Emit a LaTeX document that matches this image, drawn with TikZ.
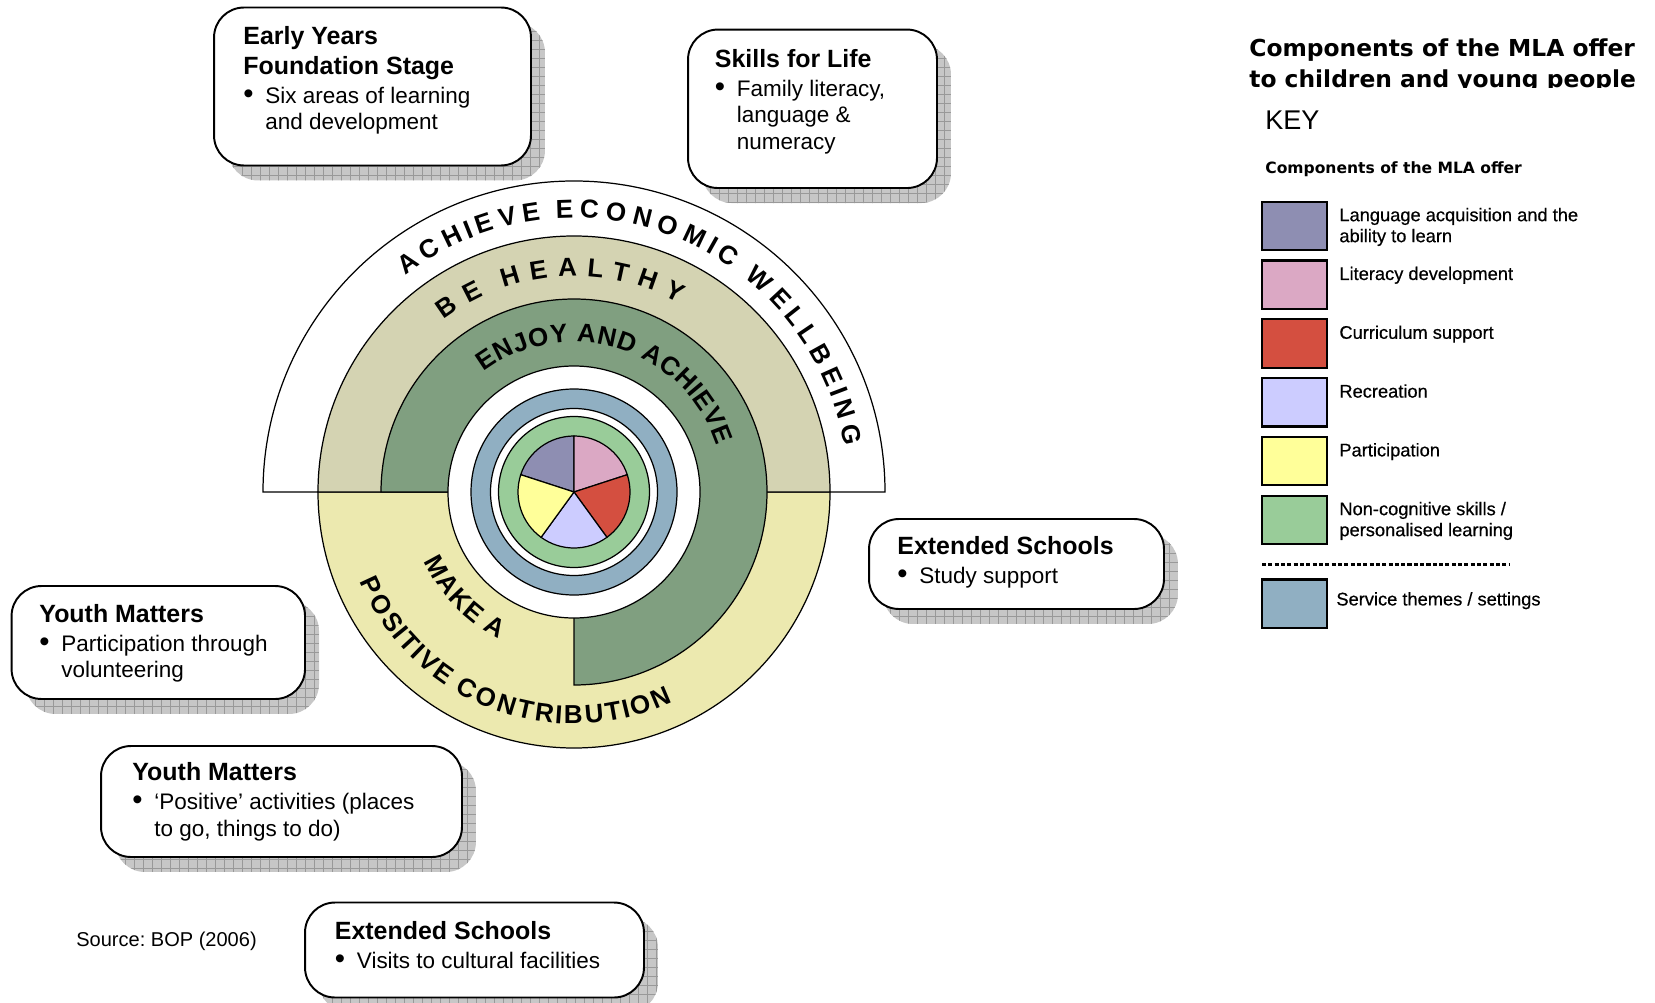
\documentclass[tikz,border=0pt]{standalone}
\usepackage{graphicx}
\usepackage{fontspec}
\setmainfont{Liberation Sans}
\newfontfamily\verdana{DejaVu Sans}
\newfontfamily\keyfont[FakeBold=0.5]{Liberation Sans}
\usetikzlibrary{positioning, shadows, decorations.text, patterns.meta}

\definecolor{langcol}{HTML}{8E8EB2}
\definecolor{litcol}{HTML}{DBA8C4}
\definecolor{currcol}{HTML}{D44F40}
\definecolor{reccol}{HTML}{CCCCFF}
\definecolor{partcol}{HTML}{FFFF99}
\definecolor{skillcol}{HTML}{99CC99}
\definecolor{themecol}{HTML}{90AFC2}
\definecolor{healthcol}{HTML}{D4D3B2}
\definecolor{enjoycol}{HTML}{809F80}
\definecolor{contribcol}{HTML}{ECE9AF}

\newcommand{\boxhead}[1]{{\fontsize{14.2pt}{16.8pt}\selectfont\bfseries #1}}
\newcommand{\itm}{\makebox[0.44cm][l]{\scalebox{1.3}{\textbullet}}}
\newcommand{\ind}{\hspace*{0.44cm}}

\tikzset{
  mlabox/.style={draw, line width=1.1pt, rounded corners=0.6cm, fill=white,
    drop shadow={shadow xshift=0.28cm, shadow yshift=-0.3cm, fill=black!22, opacity=1,
      postaction={pattern={Hatch[distance=0.18cm, line width=0.4pt]}, pattern color=black!40}}},
  boxtext/.style={inner sep=0pt, align=left, font=\fontsize{12.8pt}{15pt}\selectfont},
  swatch/.style={draw, line width=1.2pt, minimum width=1.3cm, minimum height=0.97cm, inner sep=0pt},
  keytext/.style={inner sep=0pt, align=left, font=\keyfont\fontsize{10.4pt}{11.95pt}\selectfont},
  ring/.style={draw, line width=0.7pt},
  ringtext/.style={decorate, decoration={text effects along path, text={#1},
    text effects/.cd, text along path, fit text to path,
    characters={font=\fontsize{14.8pt}{14.8pt}\selectfont\bfseries}}}
}

\begin{document}
\frenchspacing
\begin{tikzpicture}[x=0.02cm, y=0.02cm]
\useasboundingbox (0,0) rectangle (1655,-1003);

% the rings of the offer
\begin{scope}[shift={(574,-492)}]
% achieve economic wellbeing
\draw[ring, fill=white] (311,0) arc[start angle=0, end angle=180, radius=311] -- cycle;
% make a positive contribution
\draw[ring, fill=contribcol] (-256,0) arc[start angle=180, end angle=360, radius=256] -- cycle;
% be healthy
\draw[ring, fill=healthcol] (256,0) arc[start angle=0, end angle=180, radius=256] -- cycle;
% enjoy and achieve
\draw[ring, fill=enjoycol] (0,0) -- (-193,0) arc[start angle=180, end angle=-90, radius=193] -- cycle;
% centre
\draw[ring, fill=white] (0,0) circle[radius=126];
\draw[ring, fill=themecol] (0,0) circle[radius=103];
\draw[ring, fill=white] (0,0) circle[radius=83.5];
\draw[ring, fill=skillcol] (0,0) circle[radius=75.5];
\foreach \a/\col in {90/langcol, 18/litcol, -54/currcol, -126/reccol, 162/partcol}
  \draw[ring, fill=\col] (0,0) -- (\a:56) arc[start angle=\a, end angle=\a+72, radius=56] -- cycle;
% texts round the rings
\path[ringtext={ACHIEVE ECONOMIC WELLBEING}] (128:274) arc[start angle=128, end angle=9.5, radius=274];
\path[ringtext={BE HEALTHY}] (127:216) arc[start angle=127, end angle=61, radius=216];
\path[ringtext={ENJOY AND ACHIEVE}] (127:150) arc[start angle=127, end angle=18, radius=150];
\path[ringtext={MAKE A}] (204.7:165) arc[start angle=204.7, end angle=243.1, radius=165];
\path[ringtext={POSITIVE CONTRIBUTION}] (202.8:232) arc[start angle=202.8, end angle=295.2, radius=232];
\end{scope}

% boxes round the rings
\node[mlabox, minimum width=6.34cm, minimum height=3.16cm] (eyfs) at (372.5,-86.5) {};
\node[boxtext, below right=0.4cm and 0.6cm of eyfs.north west] (eyfs-t)
  {\boxhead{Early Years}\\[1.8pt]\boxhead{Foundation Stage}\\[1.5pt]\itm Six areas of learning\\\ind and development};

\node[mlabox, minimum width=4.98cm, minimum height=3.17cm] (skills) at (812.5,-108.8) {};
\node[boxtext, below right=0.41cm and 0.55cm of skills.north west] (skills-t)
  {\boxhead{Skills for Life}\\[1.5pt]\itm Family literacy,\\\ind language \&\\\ind numeracy};

\node[mlabox, minimum width=5.9cm, minimum height=1.8cm] (study) at (1016.5,-564) {};
\node[boxtext, below right=0.36cm and 0.58cm of study.north west] (study-t)
  {\boxhead{Extended Schools}\\[1.5pt]\itm Study support};

\node[mlabox, minimum width=5.87cm, minimum height=2.26cm] (volunt) at (158.3,-642.5) {};
\node[boxtext, below right=0.38cm and 0.57cm of volunt.north west] (volunt-t)
  {\boxhead{Youth Matters}\\[1.5pt]\itm Participation through\\\ind volunteering};

\node[mlabox, minimum width=7.22cm, minimum height=2.22cm] (posact) at (281.5,-801.5) {};
\node[boxtext, below right=0.35cm and 0.64cm of posact.north west] (posact-t)
  {\boxhead{Youth Matters}\\[1.5pt]\itm ‘Positive’ activities (places\\\ind to go, things to do)};

\node[mlabox, minimum width=6.78cm, minimum height=1.9cm] (visits) at (474.5,-950) {};
\node[boxtext, below right=0.39cm and 0.61cm of visits.north west] (visits-t)
  {\boxhead{Extended Schools}\\[1.5pt]\itm Visits to cultural facilities};

\node[anchor=west, inner sep=0pt, font=\fontsize{11.4pt}{13pt}\selectfont] (source) at (76,-941.5) {Source: BOP (2006)};

% key
\begin{scope}
\clip (1200,0) rectangle (1655,-88);
\node[anchor=north west, inner sep=0pt, align=left, font=\verdana\bfseries\fontsize{13.3pt}{18pt}\selectfont] (title) at (1249,-38)
  {Components of the MLA offer\\to children and young people};
\end{scope}
\node[anchor=north west, inner sep=0pt, font=\fontsize{15.4pt}{18pt}\selectfont] (key) at (1265,-110.5) {KEY};
\node[anchor=north west, inner sep=0pt, font=\verdana\bfseries\fontsize{8.85pt}{11pt}\selectfont] (keyhead) at (1265,-161) {Components of the MLA offer};

\foreach \col/\txt [count=\i] in {langcol/{Language acquisition and the\\ability to learn},
    litcol/{Literacy development}, currcol/{Curriculum support}, reccol/{Recreation},
    partcol/{Participation}, skillcol/{Non-cognitive skills /\\personalised learning}} {
  \node[swatch, fill=\col] (sw\i) at (1294.5,{-225.9-58.8*(\i-1)}) {};
  \node[keytext, below right=0.14cm and 0.22cm of sw\i.north east] (kt\i) {\txt};
}
\coordinate (dotl) at (1262,-564.7);
\coordinate (dotr) at (1510,-564.7);
\draw[line width=1.7pt, dash pattern=on 2.3pt off 1.3pt] (dotl) -- (dotr);
\node[swatch, fill=themecol] (sw7) at (1294.5,-603.7) {};
\node[keytext, right=0.16cm of sw7, yshift=0.06cm] (kt7) {Service themes / settings};
\end{tikzpicture}
\end{document}
